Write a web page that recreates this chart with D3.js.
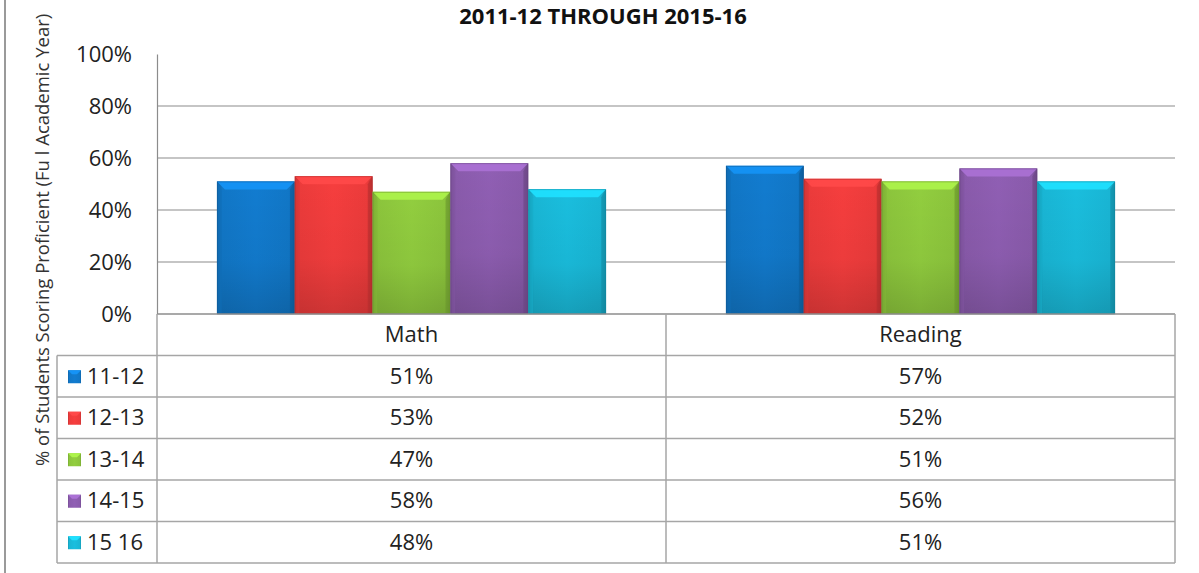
<!DOCTYPE html>
<html><head><meta charset="utf-8">
<script src="https://cdn.jsdelivr.net/npm/d3@7"></script>
<style>body{margin:0;background:#fff}svg{display:block}text{font-family:"Open Sans",Lato,sans-serif}</style>
</head><body>
<script>
const title = "2011-12 THROUGH 2015-16";
const yTitle = "% of Students Scoring Proficient (Fu l Academic Year)";
const categories = ["Math", "Reading"];
const seriesNames = ["11-12", "12-13", "13-14", "14-15", "15 16"];
const mathValues = [51, 53, 47, 58, 48];
const readingValues = [57, 52, 51, 56, 51];
const yTicks = [0, 20, 40, 60, 80, 100];
const colors = ["#1177c7", "#ec3b3b", "#8cc53c", "#8a5bac", "#19b6d5"];

const W = 1199, H = 573;
const svg = d3.select("body").append("svg").attr("width", W).attr("height", H);
const defs = svg.append("defs");

const plotL = 157, plotR = 1175, plotT = 54, plotB = 314, tableB = 563, labelL = 57;

const valuesBySeries = seriesNames.map((s, i) => ({name: s, color: colors[i], values: [mathValues[i], readingValues[i]]}));

const y = d3.scaleLinear().domain([0, 100]).range([plotB, plotT]);
const x0 = d3.scaleBand().domain(categories).range([plotL, plotR]);
const x1 = d3.scaleBand().domain(seriesNames).range([0, x0.bandwidth()]).paddingOuter(0.77).paddingInner(0);
const rowScale = d3.scaleBand().domain(["__head"].concat(seriesNames)).range([plotB, tableB]);

colors.forEach((c, i) => {
  const g = defs.append("linearGradient").attr("id", "bg" + i).attr("x1", 0).attr("x2", 1).attr("y1", 0).attr("y2", 0);
  const dk = d3.color(c).darker(0.6), lt = d3.color(c).brighter(0.12);
  g.append("stop").attr("offset", 0).attr("stop-color", dk);
  g.append("stop").attr("offset", 0.07).attr("stop-color", c);
  g.append("stop").attr("offset", 0.5).attr("stop-color", lt);
  g.append("stop").attr("offset", 0.93).attr("stop-color", c);
  g.append("stop").attr("offset", 1).attr("stop-color", dk);
  const gv = defs.append("linearGradient").attr("id", "vg" + i).attr("x1", 0).attr("x2", 0).attr("y1", 0).attr("y2", 1);
  gv.append("stop").attr("offset", 0).attr("stop-color", "#000").attr("stop-opacity", 0);
  gv.append("stop").attr("offset", 0.6).attr("stop-color", "#000").attr("stop-opacity", 0.04);
  gv.append("stop").attr("offset", 1).attr("stop-color", "#000").attr("stop-opacity", 0.16);
});

svg.append("line").attr("x1", 5).attr("x2", 5).attr("y1", 0).attr("y2", H).attr("stroke", "#9a9a9a").attr("stroke-width", 2);

svg.append("text").attr("x", 603).attr("y", 24).attr("text-anchor", "middle")
  .attr("font-size", 22).attr("font-weight", "bold").attr("fill", "#111").text(title);

svg.append("text").attr("transform", "translate(49,466) rotate(-90)").attr("text-anchor", "start")
  .attr("font-size", 18.5).attr("fill", "#333").text(yTitle);

svg.append("g").selectAll("line").data(yTicks.filter(t => t > 0 && t < 100)).join("line")
  .attr("x1", plotL).attr("x2", plotR).attr("y1", d => y(d)).attr("y2", d => y(d))
  .attr("stroke", "#8c8c8c").attr("stroke-width", 1.2);

const yAxis = d3.axisLeft(y).tickValues(yTicks).tickFormat(d => d + "%").tickSize(0).tickPadding(25);
const ya = svg.append("g").attr("transform", `translate(${plotL},0)`).call(yAxis);
ya.select(".domain").attr("stroke", "#8c8c8c").attr("stroke-width", 1.2);
ya.selectAll("text").attr("font-size", 22).attr("fill", "#222").attr("font-family", "'Open Sans',sans-serif");

const groups = svg.append("g").selectAll("g").data(categories).join("g")
  .attr("transform", d => `translate(${x0(d)},0)`);
groups.each(function(cat, ci) {
  const g = d3.select(this);
  valuesBySeries.forEach((s, si) => {
    const bx = x1(s.name), bw = x1.bandwidth(), by = y(s.values[ci]), bh = plotB - by;
    const col = d3.color(s.color);
    g.append("rect").attr("x", bx).attr("y", by).attr("width", bw).attr("height", bh).attr("fill", `url(#bg${si})`);
    g.append("rect").attr("x", bx).attr("y", by).attr("width", bw).attr("height", bh).attr("fill", `url(#vg${si})`);
    const bv = 8;
    g.append("path").attr("d", `M${bx},${by}L${bx+bw},${by}L${bx+bw-bv},${by+bv}L${bx+bv},${by+bv}Z`)
      .attr("fill", col.brighter(0.6)).attr("opacity", 0.9);
    g.append("path").attr("d", `M${bx},${by}L${bx+bv*0.6},${by+bv}L${bx+bv*0.6},${plotB}L${bx},${plotB}Z`)
      .attr("fill", col.darker(0.15)).attr("opacity", 0.6);
    g.append("path").attr("d", `M${bx+bw},${by}L${bx+bw-bv*0.6},${by+bv}L${bx+bw-bv*0.6},${plotB}L${bx+bw},${plotB}Z`)
      .attr("fill", col.darker(0.7)).attr("opacity", 0.6);
    g.append("rect").attr("x", bx + 0.5).attr("y", by + 0.5).attr("width", bw - 1).attr("height", bh - 0.5)
      .attr("fill", "none").attr("stroke", col.darker(0.8)).attr("stroke-width", 0.8).attr("opacity", 0.6);
  });
});

const tbl = svg.append("g");
const lineCol = "#a6a6a6";
const rowsDomain = rowScale.domain();
rowsDomain.forEach((r, i) => {
  const yy = rowScale(r);
  tbl.append("line").attr("x1", i === 0 ? plotL : labelL).attr("x2", plotR).attr("y1", yy).attr("y2", yy)
    .attr("stroke", i === 0 ? "#8c8c8c" : lineCol).attr("stroke-width", 1.5);
});
tbl.append("line").attr("x1", labelL).attr("x2", plotR).attr("y1", tableB).attr("y2", tableB).attr("stroke", lineCol).attr("stroke-width", 1.5);
tbl.append("line").attr("x1", labelL).attr("x2", labelL).attr("y1", rowScale(seriesNames[0])).attr("y2", tableB).attr("stroke", lineCol).attr("stroke-width", 1.5);
[plotL, x0("Reading"), plotR].forEach(xx => {
  tbl.append("line").attr("x1", xx).attr("x2", xx).attr("y1", plotB).attr("y2", tableB).attr("stroke", lineCol).attr("stroke-width", 1.5);
});
tbl.selectAll(".hd").data(categories).join("text").attr("class", "hd")
  .attr("x", d => x0(d) + x0.bandwidth() / 2).attr("y", rowScale("__head") + rowScale.bandwidth() / 2)
  .attr("dy", "0.35em").attr("text-anchor", "middle").attr("font-size", 22).attr("fill", "#222").text(d => d);
valuesBySeries.forEach((s, si) => {
  const cy = rowScale(s.name) + rowScale.bandwidth() / 2;
  const col = d3.color(s.color);
  tbl.append("rect").attr("x", 68).attr("y", cy - 6).attr("width", 13).attr("height", 13).attr("fill", `url(#bg${si})`);
  tbl.append("path").attr("d", `M68,${cy-6}L81,${cy-6}L77,${cy-2}L72,${cy-2}Z`).attr("fill", col.brighter(0.6));
  tbl.append("text").attr("x", 87).attr("y", cy).attr("dy", "0.35em").attr("font-size", 22).attr("fill", "#222").text(s.name);
  categories.forEach((c, ci) => {
    tbl.append("text").attr("x", x0(c) + x0.bandwidth() / 2).attr("y", cy).attr("dy", "0.35em")
      .attr("text-anchor", "middle").attr("font-size", 22).attr("fill", "#222").text(s.values[ci] + "%");
  });
});
</script>
</body></html>
